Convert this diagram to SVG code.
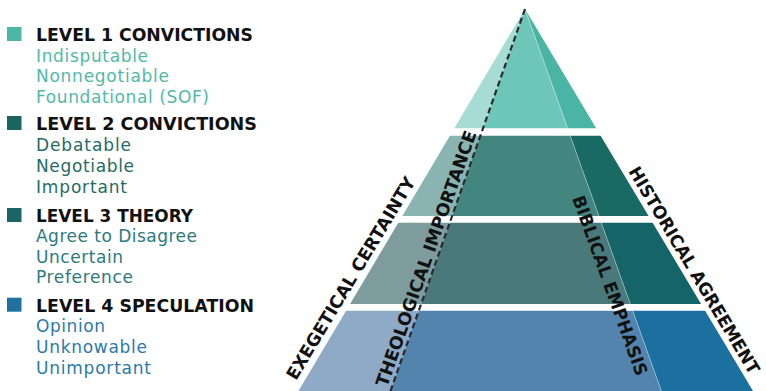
<svg xmlns="http://www.w3.org/2000/svg" width="766" height="391" viewBox="0 0 766 391">
<style>
.h{font-family:"DejaVu Sans","Liberation Sans",sans-serif;font-weight:bold;font-size:17.5px;fill:#111}
.s{font-family:"DejaVu Sans","Liberation Sans",sans-serif;font-size:17px}
.lab{font-family:"DejaVu Sans","Liberation Sans",sans-serif;font-weight:bold;font-size:17.5px;fill:#111;text-anchor:middle}
.c1{fill:#52b9a8}.c2{fill:#1f6b66}.c3{fill:#2b7a7e}.c4{fill:#2a7aab}
.div{stroke:#ffffff;stroke-opacity:0.35;stroke-width:1;fill:none}
</style>
<rect width="766" height="391" fill="#ffffff"/>
<g id="legend-level1">
<rect x="7" y="27" width="14.5" height="14" fill="#4db6a5"/>
<text class="h" x="36" y="40.5" textLength="217" lengthAdjust="spacingAndGlyphs">LEVEL 1 CONVICTIONS</text>
<text class="s c1" x="36" y="61.5" textLength="112" lengthAdjust="spacing">Indisputable</text>
<text class="s c1" x="36" y="82" textLength="133" lengthAdjust="spacing">Nonnegotiable</text>
<text class="s c1" x="36" y="102.5" textLength="173" lengthAdjust="spacing">Foundational (SOF)</text>
</g>
<g id="legend-level2">
<rect x="7" y="116" width="14.5" height="14" fill="#1a6560"/>
<text class="h" x="36" y="130" textLength="221" lengthAdjust="spacingAndGlyphs">LEVEL 2 CONVICTIONS</text>
<text class="s c2" x="36" y="150.7" textLength="95" lengthAdjust="spacing">Debatable</text>
<text class="s c2" x="36" y="171.5" textLength="98" lengthAdjust="spacing">Negotiable</text>
<text class="s c2" x="36" y="192.5" textLength="91" lengthAdjust="spacing">Important</text>
</g>
<g id="legend-level3">
<rect x="7" y="208" width="14.5" height="14" fill="#1c6468"/>
<text class="h" x="36" y="222.3" textLength="157" lengthAdjust="spacingAndGlyphs">LEVEL 3 THEORY</text>
<text class="s c3" x="36" y="241.7" textLength="161" lengthAdjust="spacing">Agree to Disagree</text>
<text class="s c3" x="36" y="262.5" textLength="87" lengthAdjust="spacing">Uncertain</text>
<text class="s c3" x="36" y="283.3" textLength="97" lengthAdjust="spacing">Preference</text>
</g>
<g id="legend-level4">
<rect x="7" y="297.7" width="14.5" height="14" fill="#1f72a0"/>
<text class="h" x="36" y="311.7" textLength="218" lengthAdjust="spacingAndGlyphs">LEVEL 4 SPECULATION</text>
<text class="s c4" x="36" y="332.3" textLength="69" lengthAdjust="spacing">Opinion</text>
<text class="s c4" x="36" y="353.3" textLength="111" lengthAdjust="spacing">Unknowable</text>
<text class="s c4" x="36" y="374" textLength="115" lengthAdjust="spacing">Unimportant</text>
</g>
<g id="tier1">
<polygon points="525,9 454.3,128.3 483,128.3" fill="#a7dcd4"/>
<polygon points="525,9 483,128.3 567.6,128.3" fill="#6ec6b8"/>
<polygon points="525,9 567.6,128.3 596.2,128.3" fill="#4ab5a5"/>
<line class="div" x1="525" y1="9" x2="567.6" y2="128.3"/>
</g>
<g id="tier2">
<polygon points="449.9,135.7 480.4,135.7 452.1,216 402.3,216" fill="#89b4b1"/>
<polygon points="480.4,135.7 570.2,135.7 598.9,216 452.1,216" fill="#43867f"/>
<polygon points="570.2,135.7 600.6,135.7 648.6,216 598.9,216" fill="#186a62"/>
<line class="div" x1="570.2" y1="135.7" x2="598.9" y2="216"/>
</g>
<g id="tier3">
<polygon points="398.3,222.7 449.8,222.7 421.2,304 350.1,304" fill="#7e9c9d"/>
<polygon points="449.8,222.7 601.3,222.7 630.3,304 421.2,304" fill="#4a797c"/>
<polygon points="601.3,222.7 652.6,222.7 701.1,304 630.3,304" fill="#156468"/>
<line class="div" x1="601.3" y1="222.7" x2="630.3" y2="304"/>
</g>
<g id="tier4">
<polygon points="346.1,310.7 418.8,310.7 389.1,395 296.1,395" fill="#8eaac6"/>
<polygon points="418.8,310.7 632.7,310.7 662.8,395 389.1,395" fill="#5384ad"/>
<polygon points="632.7,310.7 705.1,310.7 755.4,395 662.8,395" fill="#1c709f"/>
<line class="div" x1="632.7" y1="310.7" x2="662.8" y2="395"/>
</g>
<g id="connectors">
<line x1="525" y1="9" x2="389.1" y2="395" stroke="#2b2b2b" stroke-width="2.2" stroke-dasharray="6 3.5"/>
</g>
<g id="axis-labels">
<text class="lab" transform="translate(356,281.5) rotate(-59)" textLength="233" lengthAdjust="spacingAndGlyphs">EXEGETICAL CERTAINTY</text>
<text class="lab" transform="translate(431.9,260.5) rotate(-70.6)" textLength="270" lengthAdjust="spacingAndGlyphs">THEOLOGICAL IMPORTANCE</text>
<text class="lab" transform="translate(604.3,287.6) rotate(70.2)" textLength="190" lengthAdjust="spacingAndGlyphs">BIBLICAL EMPHASIS</text>
<text class="lab" transform="translate(689,273.5) rotate(59.2)" textLength="238" lengthAdjust="spacingAndGlyphs">HISTORICAL AGREEMENT</text>
</g>
</svg>
